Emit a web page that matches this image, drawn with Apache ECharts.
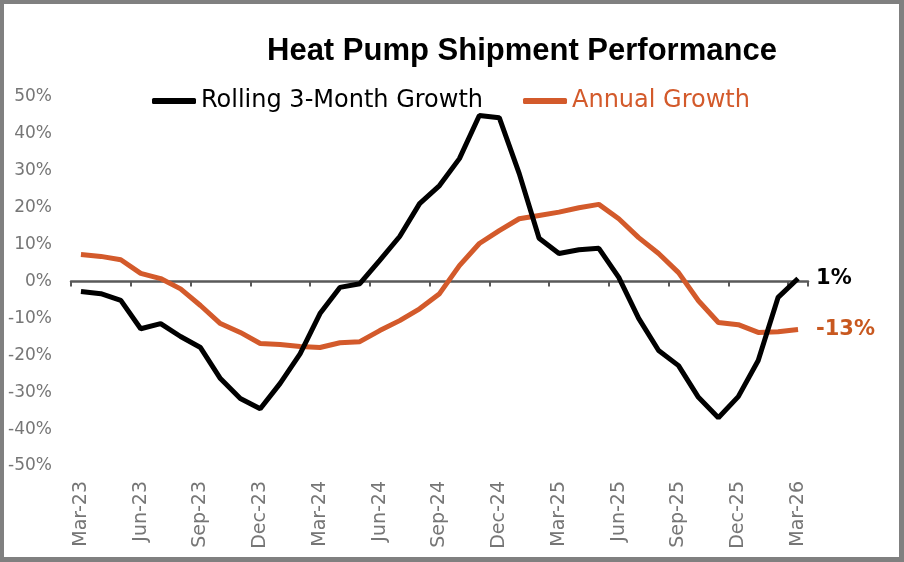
<!DOCTYPE html>
<html>
<head>
<meta charset="utf-8">
<script src="https://cdn.jsdelivr.net/npm/echarts@6.0.0/dist/echarts.min.js"></script>
<style>
  html, body { margin: 0; padding: 0; background: #fff; }
  #chart {
    width: 904px; height: 562px; box-sizing: border-box;
    border-style: solid; border-color: #808080;
    border-width: 4px 5px 5px 4px;
  }
</style>
</head>
<body>
<div id="chart"></div>
<script>
// Monthly categories, Mar-23 .. Mar-26
const months = [
    'Mar-23', 'Apr-23', 'May-23', 'Jun-23', 'Jul-23', 'Aug-23', 'Sep-23', 'Oct-23', 'Nov-23', 'Dec-23',
    'Jan-24', 'Feb-24', 'Mar-24', 'Apr-24', 'May-24', 'Jun-24', 'Jul-24', 'Aug-24', 'Sep-24', 'Oct-24',
    'Nov-24', 'Dec-24', 'Jan-25', 'Feb-25', 'Mar-25', 'Apr-25', 'May-25', 'Jun-25', 'Jul-25', 'Aug-25',
    'Sep-25', 'Oct-25', 'Nov-25', 'Dec-25', 'Jan-26', 'Feb-26', 'Mar-26'
];

// Growth rates in %
const rolling3m = [
    -2.7, -3.3, -5.1, -12.8, -11.4, -14.9, -17.9, -26.3, -31.7, -34.5,
    -27.6, -19.6, -8.7, -1.6, -0.6, 5.7, 12.2, 21.1, 26, 33.3,
    45, 44.4, 29.3, 11.7, 7.6, 8.6, 9, 1.1, -10, -18.7,
    -22.8, -31.4, -36.9, -31.2, -21.4, -4.3, 0.8
];
const annual = [
    7.3, 6.8, 5.9, 2.2, 0.8, -2, -6.5, -11.4, -13.8, -16.8,
    -17.1, -17.6, -17.9, -16.6, -16.3, -13.3, -10.6, -7.4, -3.3, 4.3,
    10.3, 13.8, 17, 17.9, 18.8, 20, 20.9, 17, 11.9, 7.6,
    2.4, -5.2, -11.1, -11.7, -13.8, -13.6, -13
];

const BLACK = '#000000';
const ORANGE = '#d35a2b';
const GREY_TXT = '#767676';
const AXIS_GREY = '#595959';
const thinFont = 'DejaVu Sans';

const chart = echarts.init(document.getElementById('chart'), null, { renderer: 'canvas' });

chart.setOption({
    animation: false,
    backgroundColor: '#fff',
    title: {
        text: 'Heat Pump Shipment Performance',
        left: 258, top: 27,
        textStyle: { fontFamily: 'Liberation Sans', fontWeight: 'bold', fontSize: 31, color: '#000' }
    },
    legend: {
        left: 143, top: 80,
        itemWidth: 44, itemHeight: 6, itemGap: 40,
        icon: 'roundRect',
        textStyle: { fontFamily: thinFont, fontSize: 24 },
        data: [
            { name: 'Rolling 3-Month Growth', textStyle: { color: BLACK } },
            { name: 'Annual Growth', textStyle: { color: ORANGE } }
        ]
    },
    grid: { left: 67, right: 91, top: 93, bottom: 91, containLabel: false },
    xAxis: [
        {
            type: 'category', data: months, boundaryGap: true,
            axisLine: { onZero: true, lineStyle: { color: AXIS_GREY, width: 2.5 } },
            axisTick: { show: true, interval: 2, length: 5, lineStyle: { color: AXIS_GREY, width: 2 } },
            axisLabel: { show: false, interval: 2 },
            splitLine: { show: false }
        },
        {
            type: 'category', data: months, boundaryGap: true, position: 'bottom',
            axisLine: { show: false, onZero: false },
            axisTick: { show: false },
            axisLabel: {
                interval: 2, rotate: 90, margin: 15,
                fontFamily: thinFont, fontSize: 19, color: GREY_TXT
            },
            splitLine: { show: false }
        }
    ],
    yAxis: {
        type: 'value', min: -50, max: 50, interval: 10,
        axisLine: { show: false },
        axisTick: { show: false },
        splitLine: { show: false },
        axisLabel: {
            formatter: '{value}%', margin: 19,
            fontFamily: thinFont, fontSize: 17, color: GREY_TXT
        }
    },
    series: [
        {
            name: 'Rolling 3-Month Growth', type: 'line', data: rolling3m,
            xAxisIndex: 0, symbol: 'none', color: BLACK,
            lineStyle: { width: 5, color: BLACK },
            endLabel: {
                show: true, distance: 18,
                formatter: p => Math.round(p.value) + '%',
                fontFamily: thinFont, fontWeight: 'bold', fontSize: 21, color: BLACK
            },
            z: 3
        },
        {
            name: 'Annual Growth', type: 'line', data: annual,
            xAxisIndex: 0, symbol: 'none', color: ORANGE,
            lineStyle: { width: 5, color: ORANGE },
            endLabel: {
                show: true, distance: 18,
                formatter: p => Math.round(p.value) + '%',
                fontFamily: thinFont, fontWeight: 'bold', fontSize: 21, color: '#c8581f'
            },
            z: 2
        }
    ]
});
</script>
</body>
</html>
